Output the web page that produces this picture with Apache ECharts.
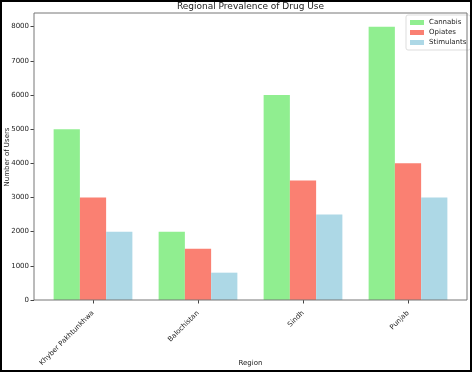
<!DOCTYPE html>
<html><head><meta charset="utf-8">
<script src="https://cdn.jsdelivr.net/npm/echarts@6/dist/echarts.min.js"></script>
<style>html,body{margin:0;padding:0;background:#fff}#c{width:472px;height:372px}</style>
</head><body><div id="c"></div>
<script>
const categories = ['Khyber Pakhtunkhwa', 'Balochistan', 'Sindh', 'Punjab'];
const cannabis = [5000, 2000, 6000, 8000];
const opiates = [3000, 1500, 3500, 4000];
const stimulants = [2000, 800, 2500, 3000];
const seriesNames = ['Cannabis', 'Opiates', 'Stimulants'];
const yTicks = [0, 1000, 2000, 3000, 4000, 5000, 6000, 7000, 8000];

const FONT = 'DejaVu Sans';
const chart = echarts.init(document.getElementById('c'), null, {renderer: 'canvas'});
const colors = ['#90EE90', '#FA8072', '#ADD8E6'];
const YMAX = 8400;
const barSeries = [cannabis, opiates, stimulants].map((d, i) => ({
  name: seriesNames[i], type: 'bar', xAxisIndex: 1, yAxisIndex: 1,
  data: d, barWidth: 26.25, barGap: '0%', itemStyle: {color: colors[i]}
}));
chart.setOption({
  animation: false,
  color: colors,
  grid: [
    {left: 34, right: 5, top: 13, bottom: 72, show: true, borderColor: '#777', borderWidth: 1, backgroundColor: 'transparent', z: 5},
    {left: 40.5, right: 11.5, top: 13, bottom: 72}
  ],
  xAxis: [
    {type: 'value', gridIndex: 0, min: 0, max: 1, show: false},
    {type: 'category', gridIndex: 1, data: categories,
     axisLine: {show: false},
     axisTick: {show: true, alignWithLabel: true, length: 3.5, lineStyle: {color: '#444'}},
     axisLabel: {rotate: 45, fontSize: 7, fontFamily: FONT, color: '#222', margin: 12, interval: 0}}
  ],
  yAxis: [
    {type: 'value', gridIndex: 0, min: 0, max: YMAX,
     axisLine: {show: false}, splitLine: {show: false},
     axisTick: {show: true, length: 3.5, lineStyle: {color: '#444'}, customValues: yTicks},
     axisLabel: {fontSize: 7, fontFamily: FONT, color: '#222', margin: 5, customValues: yTicks,
       formatter: v => String(v)}},
    {type: 'value', gridIndex: 1, min: 0, max: YMAX, show: false}
  ],
  legend: {
    orient: 'vertical', left: 406, top: 15, data: seriesNames,
    itemWidth: 14, itemHeight: 5, itemGap: 1, icon: 'rect',
    padding: [3, 4, 3, 4], backgroundColor: '#fff', borderColor: '#ddd', borderWidth: 1, borderRadius: 2,
    textStyle: {fontSize: 7, fontFamily: FONT, color: '#222', lineHeight: 9}
  },
  graphic: [
    {type: 'text', x: 250.5, y: 6.5, style: {text: 'Regional Prevalence of Drug Use', font: '9px "DejaVu Sans"', fill: '#222', textAlign: 'center', textVerticalAlign: 'middle'}},
    {type: 'text', x: 7, y: 157, rotation: Math.PI / 2, style: {text: 'Number of Users', font: '7px "DejaVu Sans"', fill: '#222', textAlign: 'center', textVerticalAlign: 'middle'}},
    {type: 'text', x: 250.5, y: 363, style: {text: 'Region', font: '7px "DejaVu Sans"', fill: '#222', textAlign: 'center', textVerticalAlign: 'middle'}},
    {type: 'rect', shape: {x: 1, y: 1, width: 470, height: 370}, style: {fill: 'none', stroke: '#000', lineWidth: 2}, z: 100}
  ],
  series: barSeries
});
</script></body></html>
